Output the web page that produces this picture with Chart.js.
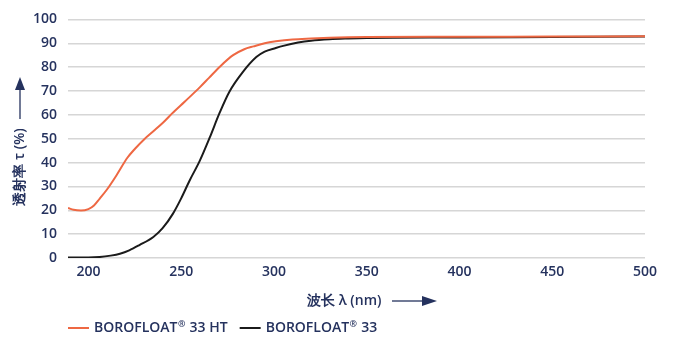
<!DOCTYPE html>
<html><head><meta charset="utf-8">
<script src="https://cdn.jsdelivr.net/npm/chart.js@4"></script>
<style>html,body{margin:0;padding:0;background:#fff}#wrap{width:675px;height:337px}</style>
</head><body><div id="wrap"><canvas id="c"></canvas></div>
<script>
const seriesNames = ['BOROFLOAT® 33 HT', 'BOROFLOAT® 33'];
const htWavelengths = [189,192,196,200,203,206,210,215,221,225,230,235,241,245,252,260,265,271,278,284,289,295,301,310,320,330,340,350,400,450,500];
const htValues      = [21,20.2,19.9,20.5,22,24.8,28.7,34.5,42,45.7,49.7,53.1,57.3,60.5,65.6,71.5,75.5,80.3,85,87.5,88.7,90,90.8,91.6,92,92.3,92.5,92.6,92.7,92.8,92.9];
const bfWavelengths = [189,200,206,212,217,222,227.5,235,240,245.5,250,254.5,260,265.3,270.7,276,283.3,290.5,295,301,305,313,320,330,340,350,400,450,500];
const bfValues      = [0.2,0.2,0.4,1,1.8,3.2,5.4,8.8,12.5,18.5,25,32.4,40.7,50.3,60.8,69.7,78,84.2,86.5,88,88.9,90.3,91.1,91.7,92,92.2,92.4,92.6,92.8];
const xTicks = [200,250,300,350,400,450,500];
const yTicks = [0,10,20,30,40,50,60,70,80,90,100];
const xTitle = '波长 λ (nm)';
const yTitle = '透射率 τ (%)';

const NAVY = '#25325e';
const FONT = "'Open Sans', sans-serif";
const toPts = (xs, ys) => xs.map((x, i) => ({x, y: ys[i]}));

function drawLabel(ctx, text, x, y) {
  // draws text with a small raised ® mark; returns width
  const parts = text.split('®');
  let cx = x;
  parts.forEach((p, i) => {
    ctx.font = "600 14px " + FONT;
    ctx.fillText(p, cx, y);
    cx += ctx.measureText(p).width;
    if (i < parts.length - 1) {
      ctx.font = "600 9px " + FONT;
      ctx.fillText('®', cx + 0.5, y - 4);
      cx += ctx.measureText('®').width + 1;
    }
  });
  ctx.font = "600 14px " + FONT;
  return cx - x;
}

const decor = {
  id: 'decor',
  afterDraw(chart) {
    const ctx = chart.ctx;
    ctx.save();
    ctx.fillStyle = NAVY; ctx.strokeStyle = NAVY;
    ctx.font = "600 14px " + FONT;
    // y title rotated
    ctx.save();
    ctx.translate(20, 167);
    ctx.rotate(-Math.PI / 2);
    ctx.textAlign = 'center'; ctx.textBaseline = 'middle';
    ctx.fillText(yTitle, 0, 0);
    ctx.restore();
    // y arrow
    ctx.lineWidth = 1.3;
    ctx.beginPath(); ctx.moveTo(20, 119); ctx.lineTo(20, 88); ctx.stroke();
    ctx.beginPath(); ctx.moveTo(20, 77); ctx.lineTo(25, 90); ctx.lineTo(15, 90); ctx.closePath(); ctx.fill();
    // x title
    ctx.textAlign = 'left'; ctx.textBaseline = 'middle';
    ctx.fillText(xTitle, 307, 301);
    ctx.beginPath(); ctx.moveTo(392, 301); ctx.lineTo(424, 301); ctx.stroke();
    ctx.beginPath(); ctx.moveTo(437, 301); ctx.lineTo(422, 296); ctx.lineTo(422, 306); ctx.closePath(); ctx.fill();
    // legend
    const items = chart.data.datasets;
    let x = 68; const y = 328;
    items.forEach(ds => {
      ctx.strokeStyle = ds.borderColor; ctx.lineWidth = 2;
      ctx.beginPath(); ctx.moveTo(x, y); ctx.lineTo(x + 21, y); ctx.stroke();
      x += 26;
      ctx.fillStyle = NAVY;
      x += drawLabel(ctx, ds.label, x, y) + 12;
    });
    ctx.restore();
  }
};

new Chart(document.getElementById('c'), {
  type: 'line',
  data: {
    datasets: [
      {label: seriesNames[0], data: toPts(htWavelengths, htValues), borderColor: '#ee6843', backgroundColor: '#ee6843', borderWidth: 2, pointRadius: 0, cubicInterpolationMode: 'monotone'},
      {label: seriesNames[1], data: toPts(bfWavelengths, bfValues), borderColor: '#1b1b1b', backgroundColor: '#1b1b1b', borderWidth: 2, pointRadius: 0, cubicInterpolationMode: 'monotone'}
    ]
  },
  options: {
    responsive: true, maintainAspectRatio: false, animation: false,
    layout: {padding: {top: 17, right: 30, left: 0, bottom: 0}},
    plugins: {legend: {display: false}, tooltip: {enabled: false}},
    scales: {
      x: {
        type: 'linear', min: 189, max: 500,
        afterBuildTicks: s => { s.ticks = xTicks.map(v => ({value: v})); },
        afterFit: s => { s.height = 79; },
        grid: {display: false, drawTicks: false},
        border: {display: false},
        ticks: {color: NAVY, padding: 6, font: {family: FONT, size: 14, weight: '600'}}
      },
      y: {
        min: 0, max: 100,
        afterBuildTicks: s => { s.ticks = yTicks.map(v => ({value: v})); },
        afterFit: s => { s.width = 68; },
        grid: {color: '#d6d6d6', lineWidth: 1.5, drawTicks: false},
        border: {display: false},
        ticks: {color: NAVY, padding: 11, font: {family: FONT, size: 14, weight: '600'}}
      }
    }
  },
  plugins: [decor]
});
</script></body></html>
